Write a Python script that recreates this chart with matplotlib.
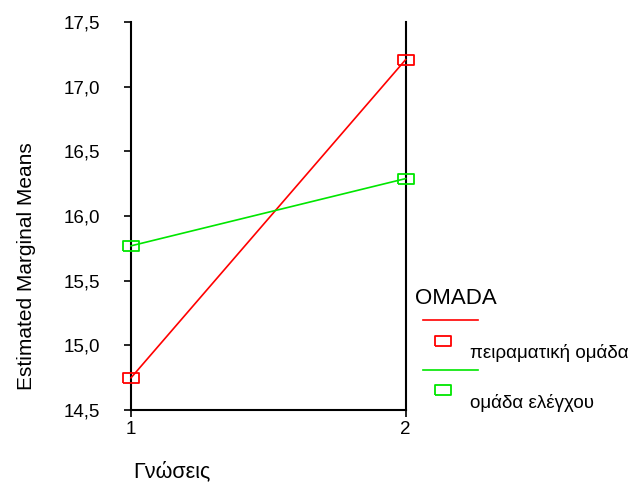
import matplotlib.pyplot as plt
from matplotlib.lines import Line2D
from matplotlib.ticker import FuncFormatter

plt.rcParams['font.family'] = ['Liberation Sans', 'DejaVu Sans']

levels = [1, 2]
groups = ['πειραματική ομάδα', 'ομάδα ελέγχου']
means_exp = [14.75, 17.21]
means_ctrl = [15.77, 16.29]
colors = ['#ff0000', '#00e600']
yticks = [14.5, 15.0, 15.5, 16.0, 16.5, 17.0, 17.5]

# flat open box marker like the SPSS one
box = [(-1, -0.6), (1, -0.6), (1, 0.6), (-1, 0.6), (-1, -0.6)]

fig = plt.figure(figsize=(6.3, 4.9), dpi=100)
ax = fig.add_axes([0.208, 0.163, 0.436, 0.792])

for vals, c in zip([means_exp, means_ctrl], colors):
    ax.plot(levels, vals, color=c, lw=1.2, marker=box, ms=12, mfc='none',
            mec=c, mew=1.3, clip_on=False, zorder=3)

ax.set_xlim(1, 2)
ax.set_ylim(14.5, 17.5)
ax.set_xticks(levels)
ax.set_yticks(yticks)
ax.yaxis.set_major_formatter(FuncFormatter(lambda v, p: f'{v:.1f}'.replace('.', ',')))
ax.spines['top'].set_visible(False)
for s in ['left', 'right', 'bottom']:
    ax.spines[s].set_linewidth(1.5)
ax.tick_params(axis='both', direction='out', length=5, width=1.2, labelsize=13.5)
ax.tick_params(axis='y', pad=17)
ax.tick_params(axis='x', pad=3)

fig.text(27 / 630, 1 - 266 / 490, 'Estimated Marginal Means', fontsize=15,
         rotation=90, va='center', ha='center')
fig.text(133 / 630, 1 - 472 / 490, 'Γνώσεις', fontsize=15.5, va='center', ha='left')

# legend drawn by hand, SPSS style
fig.text(415 / 630, 1 - 298 / 490, 'OMADA', fontsize=16, va='center', ha='left')
rows = [(320, 341, 353), (370, 390, 403)]
for (ly, my, ty), c, g in zip(rows, colors, groups):
    fig.add_artist(Line2D([423 / 630, 478 / 630], [1 - ly / 490] * 2, color=c, lw=1.2))
    fig.add_artist(Line2D([443 / 630], [1 - my / 490], color=c, marker=box, ms=12,
                          mfc='none', mew=1.3))
    fig.text(470 / 630, 1 - ty / 490, g, fontsize=13.5, va='center', ha='left')

fig.savefig('out.png', dpi=100)
